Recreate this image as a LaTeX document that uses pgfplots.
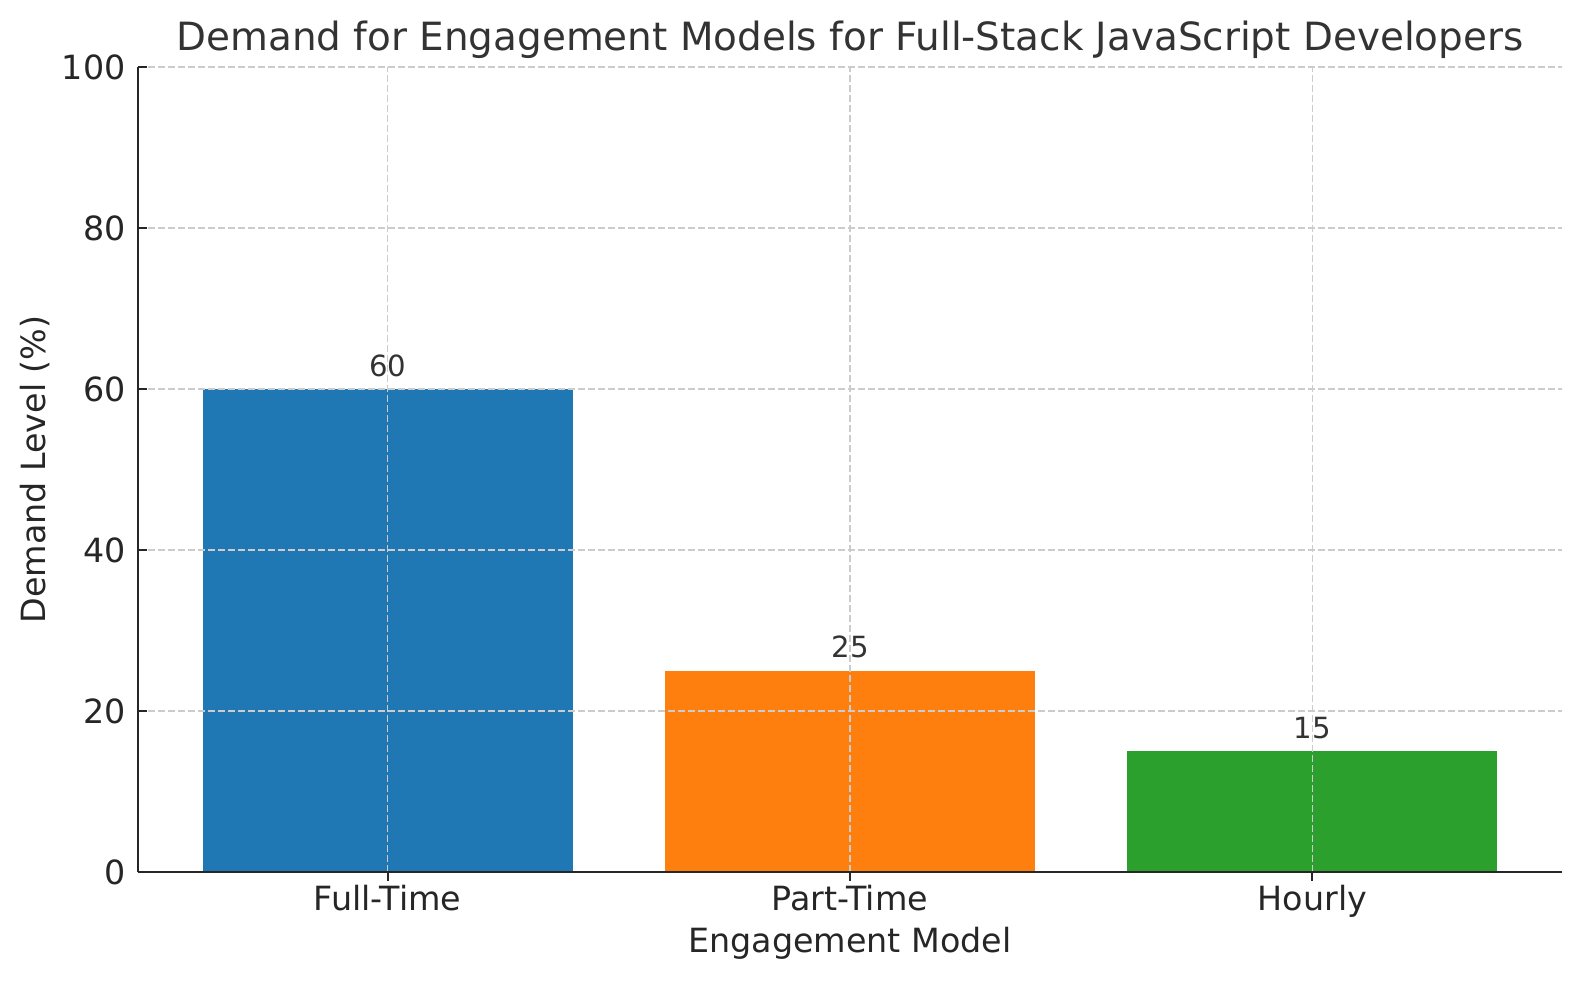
\documentclass[border=0pt]{standalone}
\usepackage{pgfplots}
\pgfplotsset{compat=1.18}
\usepackage{fontspec}
\setmainfont{DejaVu Sans}
\definecolor{tblue}{HTML}{1F77B4}
\definecolor{torange}{HTML}{FF7F0E}
\definecolor{tgreen}{HTML}{2CA02C}
\definecolor{spine}{HTML}{262626}
\definecolor{titlec}{HTML}{333333}
\definecolor{gridc}{HTML}{CCCCCC}
\begin{document}
\begin{tikzpicture}
\useasboundingbox (0,0) rectangle (568.8pt,352.8pt);
\begin{axis}[
  at={(49.68pt,38.88pt)}, anchor=south west,
  scale only axis, width=512.64pt, height=289.8pt,
  xmin=-0.54, xmax=2.54, ymin=0, ymax=100,
  axis x line*=bottom, axis y line*=left,
  axis line style={spine, line width=0.9pt},
  tick align=inside, major tick length=3.2pt,
  tick style={spine, line width=0.8pt},
  xtick={0,1,2}, xticklabels={Full-Time,Part-Time,Hourly},
  ytick={0,20,40,60,80,100},
  /pgf/number format/assume math mode=true,
  tick label style={font=\fontsize{12pt}{14pt}\selectfont, text=spine},
  xticklabel style={anchor=base, yshift=-10.8pt},
  yticklabel style={anchor=east, inner sep=0pt, xshift=-4.3pt},
  grid=major,
  major grid style={gridc, line width=0.5pt, dash pattern=on 2.5pt off 1.1pt},
  axis on top,
  title={Demand for Engagement Models for Full-Stack JavaScript Developers},
  every axis title/.style={at={(axis description cs:0.5,1.0199)}, anchor=base, font=\fontsize{14pt}{17pt}\selectfont, text=titlec},
  xlabel={Engagement Model},
  xlabel style={at={(axis description cs:0.5,-0.1006)}, anchor=base, font=\fontsize{12pt}{14pt}\selectfont, text=spine},
  ylabel={Demand Level (\%)},
  ylabel style={at={(axis description cs:-0.0653,0.5)}, anchor=base, rotate=0, font=\fontsize{12pt}{14pt}\selectfont, text=spine},
  ybar, bar width=0.8, bar shift=0pt,
  nodes near coords,
  every node near coord/.append style={anchor=base, yshift=4.6pt, font=\fontsize{10.5pt}{12pt}\selectfont, text=titlec},
]
\addplot[fill=tblue, draw=none] coordinates {(0,60)};
\addplot[fill=torange, draw=none] coordinates {(1,25)};
\addplot[fill=tgreen, draw=none] coordinates {(2,15)};
\end{axis}
\end{tikzpicture}
\end{document}
